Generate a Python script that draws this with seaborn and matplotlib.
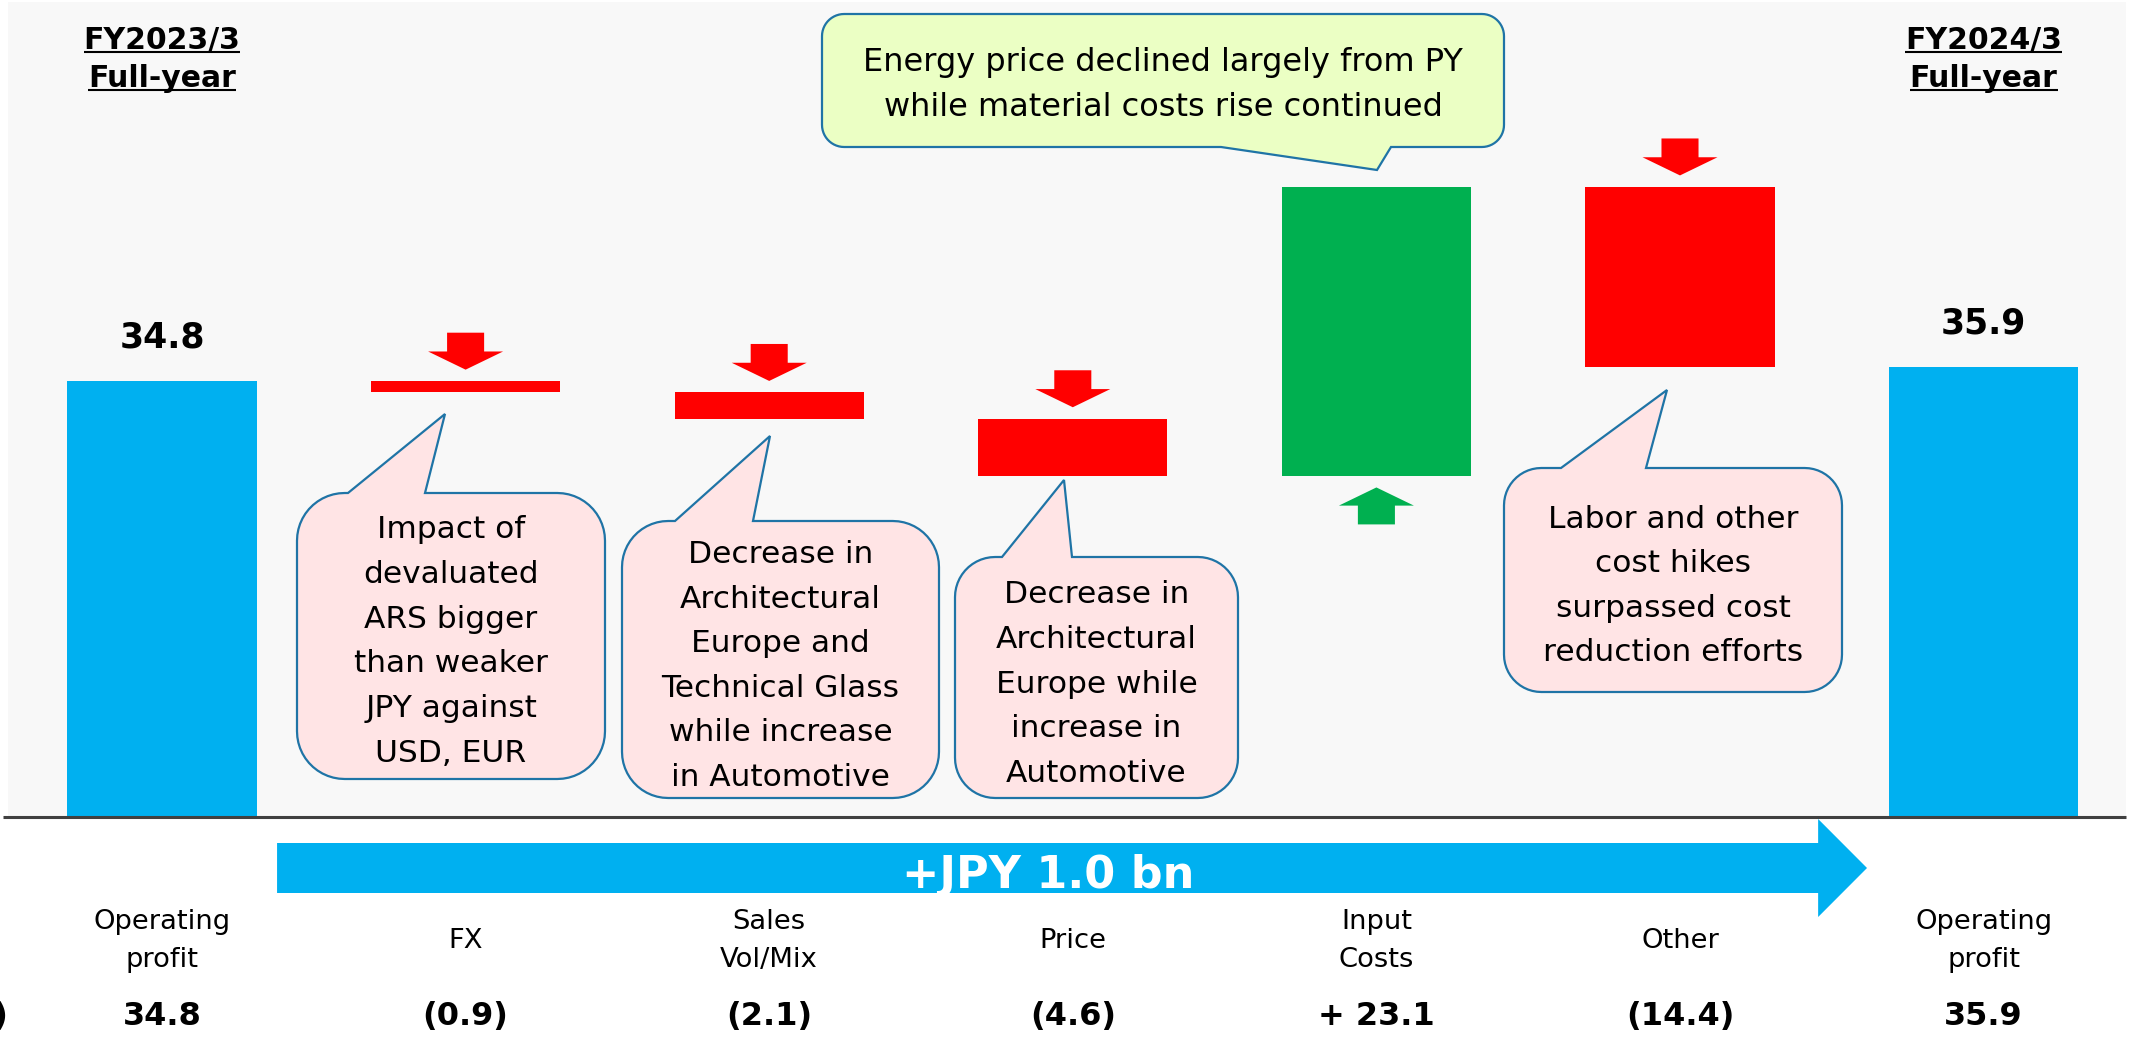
import numpy as np
import pandas as pd
import matplotlib
matplotlib.use("Agg")
import matplotlib.pyplot as plt
import matplotlib.transforms as mtransforms
from matplotlib.patches import Polygon
import seaborn as sns

# data (JPY bn)
steps = ["start", "FX", "Sales Vol/Mix", "Price", "Input Costs", "Other", "end"]
step_labels = ["Operating\nprofit", "FX", "Sales\nVol/Mix", "Price", "Input\nCosts", "Other", "Operating\nprofit"]
start_value = 34.8
deltas = [-0.9, -2.1, -4.6, 23.1, -14.4]
end_value = 35.9
value_labels = ["34.8", "(0.9)", "(2.1)", "(4.6)", "+ 23.1", "(14.4)", "35.9"]
headers = ["FY2023/3\nFull-year", "FY2024/3\nFull-year"]
total_change = "+JPY 1.0 bn"
notes = [
    ["Impact of", "devaluated", "ARS bigger", "than weaker", "JPY against", "USD, EUR"],
    ["Decrease in", "Architectural", "Europe and", "Technical Glass", "while increase", "in Automotive"],
    ["Decrease in", "Architectural", "Europe while", "increase in", "Automotive"],
    ["Labor and other", "cost hikes", "surpassed cost", "reduction efforts"],
    ["Energy price declined largely from PY", "while material costs rise continued"],
]

BLUE = "#00b0f0"
RED = "#ff0000"
GREEN = "#00b050"
BG = "#f8f8f8"
BORDER = "#1f74a6"
PINK = "#ffe4e5"
LIME = "#ebffc4"

W, H = 2134, 1037

sns.set_style("white")
plt.rcParams["font.family"] = ["DejaVu Sans"]
plt.rcParams["text.color"] = "black"

running = np.cumsum([start_value] + deltas)
tops = [start_value] + [max(a, b) for a, b in zip(running[:-1], running[1:])] + [end_value]
bottoms = [0] + [min(a, b) for a, b in zip(running[:-1], running[1:])] + [0]
kinds = ["total"] + ["up" if d > 0 else "down" for d in deltas] + ["total"]
df = pd.DataFrame({"step": range(len(steps)), "top": tops, "bottom": bottoms, "kind": kinds})

fig = plt.figure(figsize=(W / 100, H / 100), dpi=100, facecolor="white")
ax = fig.add_axes([8 / W, (H - 817) / H, 2118 / W, 815 / H])

sns.barplot(data=df, x="step", y="top", hue="kind",
            palette={"total": BLUE, "down": RED, "up": GREEN},
            dodge=False, width=0.623, saturation=1, linewidth=0,
            errorbar=None, legend=False, ax=ax)
# waterfall: cover the part under each floating bar
sns.barplot(data=df, x="step", y="bottom", color=BG, width=0.623,
            saturation=1, linewidth=0, errorbar=None, ax=ax)

ax.set_facecolor(BG)
ax.set_xlim((8 - 162) / 303.6, (2126 - 162) / 303.6)
ax.set_ylim(0, 65.04)
ax.set_xticks([])
ax.set_yticks([])
ax.set_xlabel("")
ax.set_ylabel("")
for s in ax.spines.values():
    s.set_visible(False)

# small arrows and totals on bars
for i, (t, b, k) in enumerate(zip(tops, bottoms, kinds)):
    if k == "down":
        ax.arrow(i, t + 0.9 + 2.95, 0, -2.95, width=0.122, head_width=0.247,
                 head_length=1.45, length_includes_head=True, fc=RED, ec="none", lw=0)
    elif k == "up":
        ax.arrow(i, b - 0.9 - 2.95, 0, 2.95, width=0.122, head_width=0.247,
                 head_length=1.45, length_includes_head=True, fc=GREEN, ec="none", lw=0)
    else:
        ax.annotate(value_labels[i], (i, t), xytext=(0, 24), textcoords="offset points",
                    ha="center", va="baseline", fontsize=25, fontweight="bold",
                    color="black")

# overlay in pixel coordinates
px = fig.add_axes([0, 0, 1, 1], zorder=5)
px.set_xlim(0, W)
px.set_ylim(H, 0)
px.axis("off")
px.patch.set_alpha(0)
mix = mtransforms.blended_transform_factory(ax.transData, px.transData)

px.plot([3, 2126], [817, 817], color="#404040", lw=2.2, solid_capstyle="butt")

# big arrow under the chart
arrow_x = [0.379, 5.455, 5.455, 5.616, 5.455, 5.455, 0.379]
arrow_y = [843, 843, 819, 868, 917, 893, 893]
px.add_patch(Polygon(list(zip(arrow_x, arrow_y)), closed=True, fc=BLUE, ec="none",
                     transform=mix))
px.text(2.92, 888, total_change, transform=mix, ha="center", va="baseline",
        fontsize=32, fontweight="bold", color="white")

# category names and values
for i, (lab, val) in enumerate(zip(step_labels, value_labels)):
    lines = lab.split("\n")
    for j, line in enumerate(lines):
        px.text(i, 948 + (j - (len(lines) - 1) / 2) * 38, line, transform=mix,
                ha="center", va="baseline", fontsize=19.7, color="black")
    px.text(i, 1025, val, transform=mix, ha="center", va="baseline",
            fontsize=23, fontweight="bold", color="black")
px.text(8, 1025, "(JPY bn)", ha="right", va="baseline", fontsize=23,
        fontweight="bold", color="black")


def callout(box, ptr, fc, lines, first_base, pitch, size, side="top"):
    x0, y0, x1, y1 = box
    bx0, bx1, tx, ty = ptr
    r = min(x1 - x0, y1 - y0) / 6

    def arc(cx, cy, a0, a1):
        t = np.radians(np.linspace(a0, a1, 14))
        return list(zip(cx + r * np.cos(t), cy + r * np.sin(t)))

    pts = arc(x0 + r, y0 + r, 180, 270)
    if side == "top":
        pts += [(bx0, y0), (tx, ty), (bx1, y0)]
    pts += arc(x1 - r, y0 + r, 270, 360)
    pts += arc(x1 - r, y1 - r, 0, 90)
    if side == "bottom":
        pts += [(bx1, y1), (tx, ty), (bx0, y1)]
    pts += arc(x0 + r, y1 - r, 90, 180)
    px.add_patch(Polygon(pts, closed=True, fc=fc, ec=BORDER, lw=1.6, joinstyle="miter"))
    cx = (x0 + x1) / 2
    for j, line in enumerate(lines):
        px.text(cx, first_base + j * pitch, line, ha="center", va="baseline",
                fontsize=size, color="black")


callout((297, 493, 605, 779), (348, 425, 445, 414), PINK, notes[0], 538, 44.8, 22.5)
callout((622, 521, 939, 798), (675, 753, 770, 436), PINK, notes[1], 563, 44.6, 22.5)
callout((955, 557, 1238, 798), (1002, 1072, 1064, 480), PINK, notes[2], 603, 44.8, 22.5)
callout((1504, 468, 1842, 692), (1561, 1646, 1667, 390), PINK, notes[3], 528, 44.3, 22.5)
callout((822, 14, 1504, 147), (1221, 1391, 1377, 170), LIME, notes[4], 71, 45, 23,
        side="bottom")

# underlined headers
head_texts = []
for i, h in zip([0, len(steps) - 1], headers):
    for line, yb in zip(h.split("\n"), [49, 87]):
        t = px.text(i, yb, line, transform=mix, ha="center", va="baseline",
                    fontsize=21.5, fontweight="bold", color="black")
        head_texts.append((t, yb))
fig.canvas.draw()
rend = fig.canvas.get_renderer()
for t, yb in head_texts:
    bb = t.get_window_extent(rend)
    px.plot([bb.x0, bb.x1], [yb + 3, yb + 3], color="black", lw=1.5, solid_capstyle="butt")

fig.savefig("out.png", dpi=100, facecolor="white")
